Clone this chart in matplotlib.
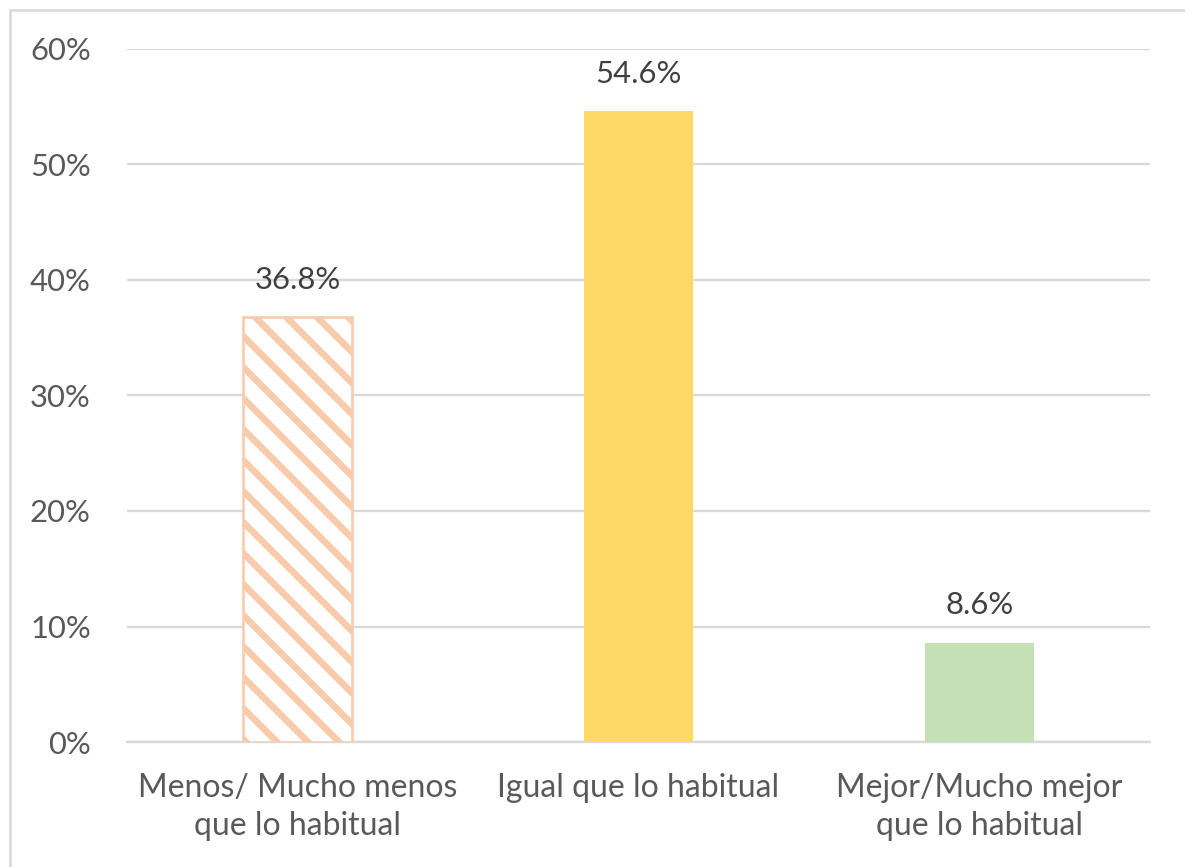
import matplotlib
matplotlib.use("Agg")
import matplotlib.pyplot as plt
from matplotlib.lines import Line2D

categories = ["Menos/ Mucho menos\nque lo habitual", "Igual que lo habitual", "Mejor/Mucho mejor\nque lo habitual"]
values = [36.8, 54.6, 8.6]
labels = ["36.8%", "54.6%", "8.6%"]
yticks = [0, 10, 20, 30, 40, 50, 60]
ytick_labels = ["0%", "10%", "20%", "30%", "40%", "50%", "60%"]

DPI = 186
plt.rcParams['font.family'] = ['Lato', 'DejaVu Sans']
plt.rcParams['hatch.linewidth'] = 2.6
plt.rcParams['hatch.color'] = '#F8CBAD'

fig = plt.figure(figsize=(1185 / DPI, 867 / DPI), dpi=DPI)
ax = fig.add_axes([127 / 1185, 125 / 867, 1023 / 1185, 693 / 867])

x = list(range(len(categories)))
bars = ax.bar(x, values, width=0.32, zorder=3)
bars[0].set_facecolor('white')
bars[0].set_edgecolor('#F8CBAD')
bars[0].set_hatch('\\\\')
bars[0].set_linewidth(1.0)
bars[1].set_facecolor('#FFD966')
bars[1].set_linewidth(0)
bars[2].set_facecolor('#C5E0B4')
bars[2].set_linewidth(0)

for xi, v, lab in zip(x, values, labels):
    ax.annotate(lab, (xi, v), xytext=(0, 9), textcoords='offset points',
                ha='center', va='bottom', fontsize=12, color='#404040')

ax.set_xlim(-0.5, 2.5)
ax.set_ylim(0, 60)
ax.set_yticks(yticks)
ax.set_yticklabels(ytick_labels, fontsize=12, color='#595959')
ax.set_xticks(x)
ax.set_xticklabels(categories, fontsize=12.4, color='#595959', linespacing=1.35)
ax.tick_params(axis='both', length=0)
ax.tick_params(axis='y', pad=14)
ax.tick_params(axis='x', pad=12)
ax.yaxis.grid(True, color='#D9D9D9', linewidth=0.9, zorder=0)
for s in ['top', 'right', 'left']:
    ax.spines[s].set_visible(False)
ax.spines['bottom'].set_color('#D9D9D9')
ax.spines['bottom'].set_linewidth(0.9)
ax.spines['bottom'].set_zorder(0)

fig.add_artist(Line2D([10 / 1185, 10 / 1185], [0, 1 - 10 / 867], transform=fig.transFigure,
                      color='#D9D9D9', linewidth=1.0))
fig.add_artist(Line2D([10 / 1185, 1], [1 - 10 / 867, 1 - 10 / 867], transform=fig.transFigure,
                      color='#D9D9D9', linewidth=1.0))

fig.savefig("out.png", dpi=DPI, facecolor='white')
